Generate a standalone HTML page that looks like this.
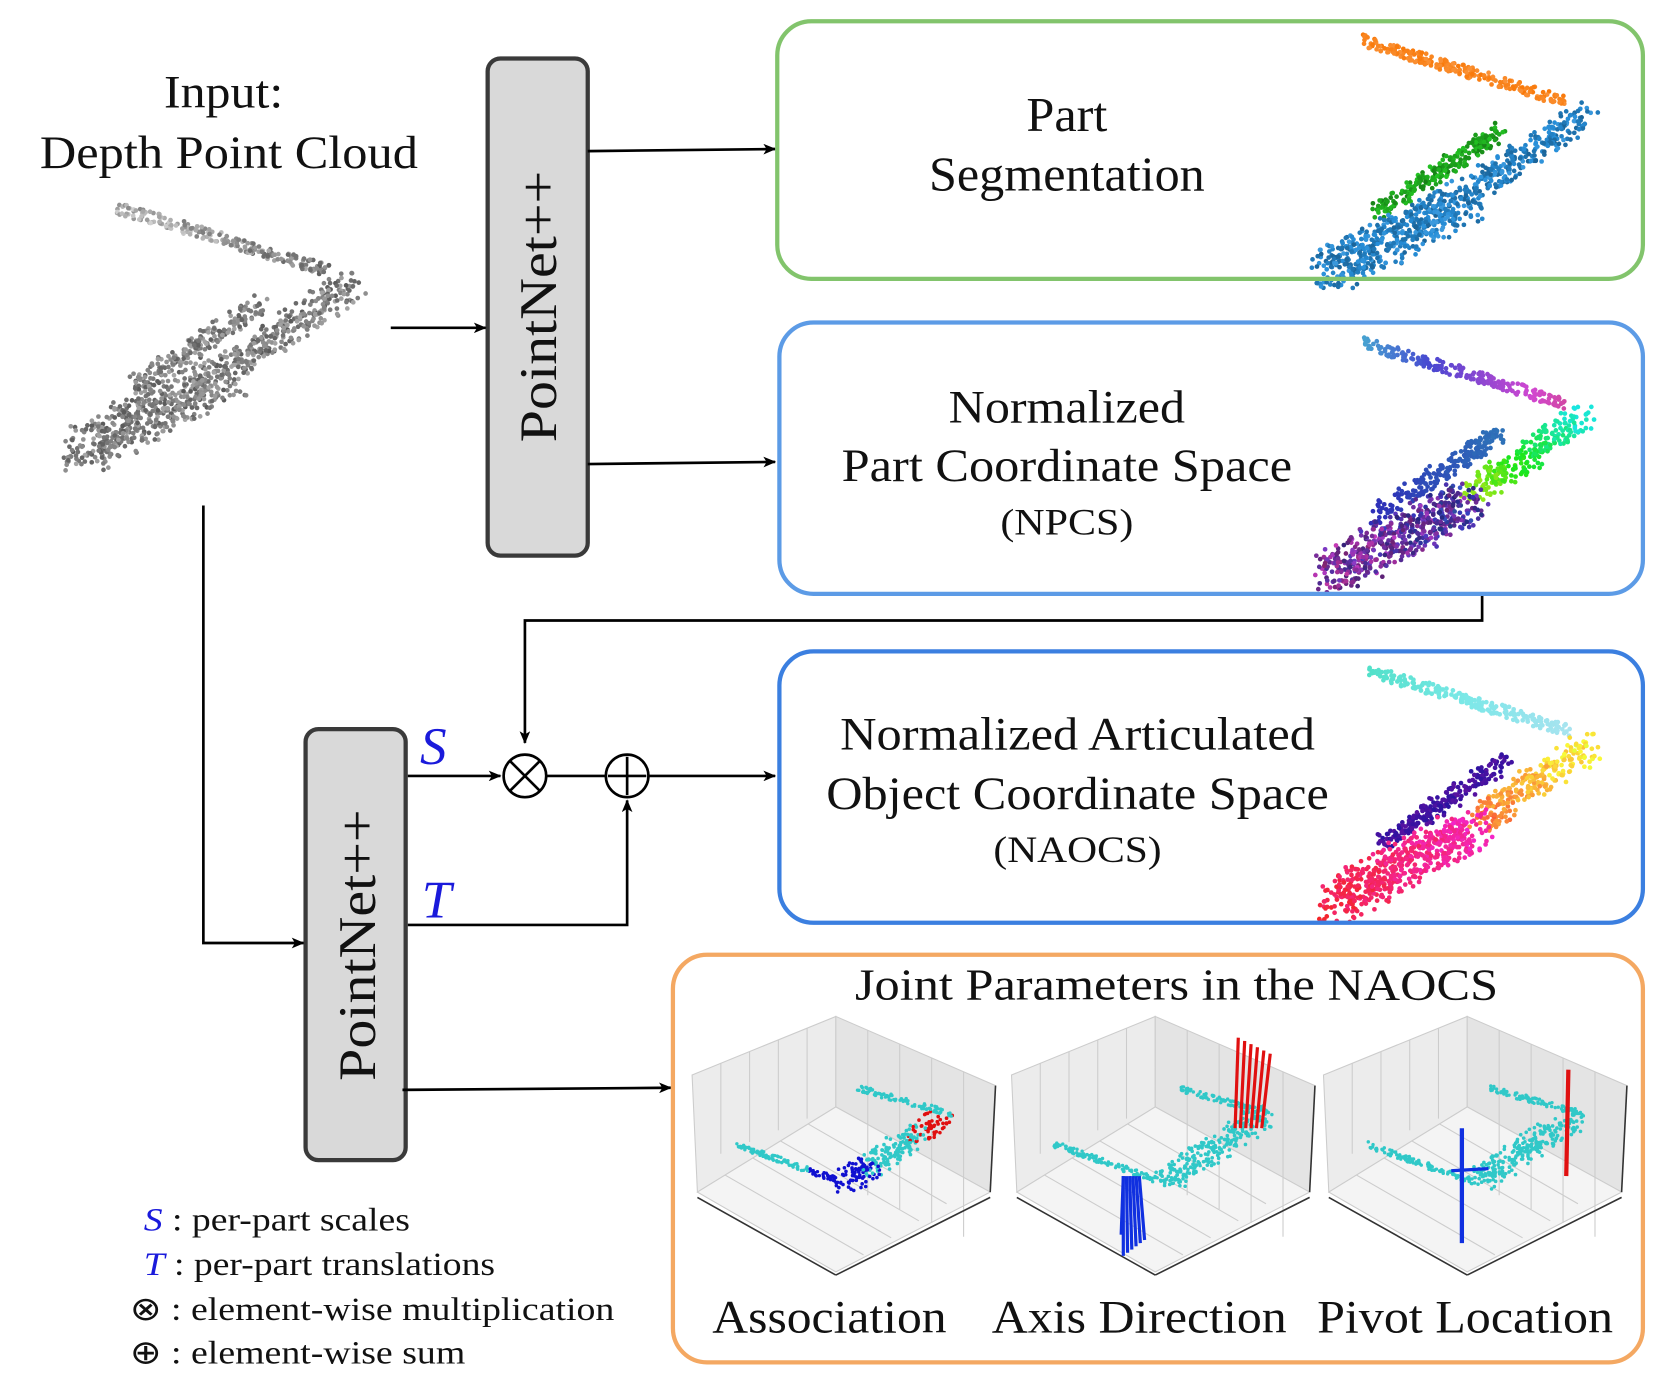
<!DOCTYPE html>
<html><head><meta charset="utf-8"><style>
html,body{margin:0;padding:0;background:#fff}
svg{display:block}
text{font-family:"Liberation Serif",serif;fill:#111}
</style></head><body>
<svg id="s" width="1661" height="1373" viewBox="0 0 1560 1290" preserveAspectRatio="none" xmlns="http://www.w3.org/2000/svg">
<defs>
<marker id="a" markerWidth="12" markerHeight="10" refX="11" refY="5" orient="auto" markerUnits="userSpaceOnUse"><path d="M0,0 L12,5 L0,10 L3,5 z" fill="#000"/></marker>
</defs>
<g id="clouds"></g>
<text x="210" y="101" font-size="44" text-anchor="middle" textLength="112" lengthAdjust="spacingAndGlyphs">Input:</text>
<text x="215" y="158" font-size="44" text-anchor="middle" textLength="355" lengthAdjust="spacingAndGlyphs">Depth Point Cloud</text>

<rect x="458" y="55" width="94" height="467" rx="12" fill="#d9d9d9" stroke="#3a3a3a" stroke-width="4"/>
<text transform="translate(522,288) rotate(-90)" font-size="50" text-anchor="middle" textLength="255" lengthAdjust="spacingAndGlyphs">PointNet++</text>
<rect x="287" y="685" width="94" height="405" rx="12" fill="#d9d9d9" stroke="#3a3a3a" stroke-width="4"/>
<text transform="translate(352,888) rotate(-90)" font-size="50" text-anchor="middle" textLength="255" lengthAdjust="spacingAndGlyphs">PointNet++</text>

<g stroke="#000" stroke-width="2.5" fill="none">
<path d="M367,308 H456" marker-end="url(#a)"/>
<path d="M552,142 L728,140" marker-end="url(#a)"/>
<path d="M552,436 L728,434" marker-end="url(#a)"/>
<path d="M1392,558 V583 H493 V698" marker-end="url(#a)"/>
<path d="M383,729 H470" marker-end="url(#a)"/>
<path d="M513,729 H569"/>
<path d="M609,729 H728" marker-end="url(#a)"/>
<path d="M383,869 H589 V752" marker-end="url(#a)"/>
<path d="M191,475 V886 H285" marker-end="url(#a)"/>
<path d="M378,1024 L630,1022" marker-end="url(#a)"/>
<circle cx="493" cy="729" r="20"/><path d="M479,715 L507,743 M507,715 L479,743"/>
<circle cx="589" cy="729" r="20"/><path d="M589,711 V747 M571,729 H607"/>
</g>
<text x="407" y="718" font-size="50" font-style="italic" style="fill:#1a1adb" text-anchor="middle">S</text>
<text x="410" y="862" font-size="50" font-style="italic" style="fill:#1a1adb" text-anchor="middle">T</text>

<rect x="730" y="20" width="813" height="242" rx="32" fill="none" stroke="#82c46c" stroke-width="4"/>
<text x="1002" y="123" font-size="46" text-anchor="middle" textLength="76" lengthAdjust="spacingAndGlyphs">Part</text>
<text x="1002" y="179" font-size="46" text-anchor="middle" textLength="259" lengthAdjust="spacingAndGlyphs">Segmentation</text>

<rect x="732" y="303" width="811" height="255" rx="32" fill="none" stroke="#5c9be6" stroke-width="4"/>
<text x="1002" y="397" font-size="44" text-anchor="middle" textLength="222" lengthAdjust="spacingAndGlyphs">Normalized</text>
<text x="1002" y="452" font-size="44" text-anchor="middle" textLength="423" lengthAdjust="spacingAndGlyphs">Part Coordinate Space</text>
<text x="1002" y="502" font-size="35" text-anchor="middle" textLength="125" lengthAdjust="spacingAndGlyphs">(NPCS)</text>

<rect x="732" y="612" width="811" height="255" rx="32" fill="none" stroke="#3b7fe0" stroke-width="4"/>
<text x="1012" y="704" font-size="44" text-anchor="middle" textLength="446" lengthAdjust="spacingAndGlyphs">Normalized Articulated</text>
<text x="1012" y="760" font-size="44" text-anchor="middle" textLength="472" lengthAdjust="spacingAndGlyphs">Object Coordinate Space</text>
<text x="1012" y="810" font-size="35" text-anchor="middle" textLength="158" lengthAdjust="spacingAndGlyphs">(NAOCS)</text>

<rect x="632" y="897" width="911" height="383" rx="32" fill="none" stroke="#f4a862" stroke-width="4"/>
<text x="1105" y="939" font-size="42" text-anchor="middle" textLength="604" lengthAdjust="spacingAndGlyphs">Joint Parameters in the NAOCS</text>
<g id="plots"></g>
<text x="779" y="1252" font-size="44" text-anchor="middle" textLength="220" lengthAdjust="spacingAndGlyphs">Association</text>
<text x="1070" y="1252" font-size="44" text-anchor="middle" textLength="277" lengthAdjust="spacingAndGlyphs">Axis Direction</text>
<text x="1376" y="1252" font-size="44" text-anchor="middle" textLength="278" lengthAdjust="spacingAndGlyphs">Pivot Location</text>

<text x="135" y="1156" font-size="31" textLength="250" lengthAdjust="spacingAndGlyphs"><tspan font-style="italic" style="fill:#1a1adb">S</tspan> : per-part scales</text>
<text x="135" y="1198" font-size="31" textLength="330" lengthAdjust="spacingAndGlyphs"><tspan font-style="italic" style="fill:#1a1adb">T</tspan> : per-part translations</text>
<text x="122" y="1240" font-size="31" textLength="455" lengthAdjust="spacingAndGlyphs">⊗ : element-wise multiplication</text>
<text x="122" y="1281" font-size="31" textLength="315" lengthAdjust="spacingAndGlyphs">⊕ : element-wise sum</text>
</svg>
<script>
var NS="http://www.w3.org/2000/svg";
var seed=7;function r(){seed=(seed*16807)%2147483647;return seed/2147483647;}
var g=document.getElementById("clouds");
function dot(p,x,y,c,rad){var e=document.createElementNS(NS,"circle");e.setAttribute("cx",x);e.setAttribute("cy",y);e.setAttribute("r",rad||2.2);e.setAttribute("fill",c);p.appendChild(e);}
function hsl(h,s,l){return "hsl("+h+","+s+"%,"+l+"%)";}
function cloud(ox,oy,sc,cf){
 for(var i=0;i<220;i++){var t=r();var x=110+t*200,y=195+t*60+(r()-.5)*12;dot(g,ox+(x-110)*sc,oy+(y-195)*sc,cf(0,t),2.2);}
 for(var i=0;i<250;i++){var t=r();var x=330-t*110+(r()-.5)*30,y=268+t*75+(r()-.5)*25;dot(g,ox+(x-110)*sc,oy+(y-195)*sc,cf(1,t),2.2);}
 for(var i=0;i<220;i++){var t=r();var x=245-t*120+(r()-.5)*16,y=285+t*80+(r()-.5)*18;dot(g,ox+(x-110)*sc,oy+(y-195)*sc,cf(2,t),2.2);}
 for(var i=0;i<550;i++){var t=r();var x=215-t*140+(r()-.5)*40,y=350+t*75+(r()-.5)*40;dot(g,ox+(x-110)*sc,oy+(y-195)*sc,cf(3,t),2.2);}
}
cloud(110,195,1,function(p,t){var l=35+r()*30+(p==0?20*(1-t):0);return hsl(0,0,l);});
cloud(1280,38,0.95,function(p,t){if(p==0)return hsl(28,95,50+r()*10);if(p==2)return hsl(120,70,30+r()*15);return hsl(205,70,35+r()*20);});
cloud(1280,322,0.95,function(p,t){if(p==0)return hsl(200+t*120,60,55);if(p==1)return hsl(180-t*100,80,50);if(p==2)return hsl(210+t*30,60,45);return hsl(280+t*40-60*r(),55,30+r()*20);});
cloud(1285,630,0.95,function(p,t){if(p==0)return hsl(170+t*20,70,60+t*20);if(p==1)return hsl(50-t*40+r()*20,95,60);if(p==2)return hsl(250+r()*20,80,35);return hsl(310+t*30+r()*20,90,55);});
var pg=document.getElementById("plots");
function line(x1,y1,x2,y2,c,w){var e=document.createElementNS(NS,"line");e.setAttribute("x1",x1);e.setAttribute("y1",y1);e.setAttribute("x2",x2);e.setAttribute("y2",y2);e.setAttribute("stroke",c);e.setAttribute("stroke-width",w);pg.appendChild(e);}
function poly(pts,f){var e=document.createElementNS(NS,"polygon");e.setAttribute("points",pts);e.setAttribute("fill",f);e.setAttribute("stroke","#ccc");e.setAttribute("stroke-width","1");pg.appendChild(e);}
function plot(ox,mode){
 var c={x:ox+140,y:1040},top={x:ox+140,y:955},L={x:ox+5,y:1010},R={x:ox+290,y:1020},BL={x:ox+10,y:1130},BR={x:ox+285,y:1140},B={x:ox+140,y:1195};
 poly([L.x+","+L.y,top.x+","+top.y,c.x+","+c.y,BL.x+","+(BL.y-10)].join(" "),"#ececec");
 poly([top.x+","+top.y,R.x+","+R.y,BR.x+","+(BR.y-20)+"",c.x+","+c.y].join(" "),"#e4e4e4");
 poly([BL.x+","+(BL.y-10),c.x+","+c.y,BR.x+","+(BR.y-20),B.x+","+B.y].join(" "),"#f4f4f4");
 for(var k=1;k<5;k++){var t=k/5;
  line(L.x+(top.x-L.x)*t,L.y+(top.y-L.y)*t,L.x+(top.x-L.x)*t+(c.x-top.x),L.y+(top.y-L.y)*t+(c.y-top.y),"#ccc",1);
  line(top.x+(R.x-top.x)*t,top.y+(R.y-top.y)*t,top.x+(R.x-top.x)*t,top.y+(R.y-top.y)*t+(c.y-top.y)+70,"#ccc",1);
  line(BL.x+(c.x-BL.x)*t,BL.y-10+(c.y-BL.y+10)*t,BL.x+(c.x-BL.x)*t+(B.x-BL.x),BL.y-10+(c.y-BL.y+10)*t+(B.y-BL.y+10),"#ccc",1);
 }
 line(BL.x,BL.y-5,B.x,B.y+3,"#333",1.5);line(B.x,B.y+3,BR.x,BR.y-15,"#333",1.5);line(R.x,R.y,BR.x,BR.y-20,"#333",1.5);
 for(var i=0;i<120;i++){var t=r();dot(pg,ox+45+t*100,1075+t*35+(r()-.5)*6,(mode==0&&t>0.7)?"#1010d0":"#30c8c8",1.6);}
 for(var i=0;i<260;i++){var t=r();dot(pg,ox+150+t*90+(r()-.5)*22,1110-t*60+(r()-.5)*22,(mode==0&&t<0.25)?"#1010d0":(mode==0&&t>0.75)?"#e01010":"#30c8c8",1.7);}
 for(var i=0;i<90;i++){var t=r();dot(pg,ox+160+t*90,1022+t*25+(r()-.5)*6,"#30c8c8",1.6);}
 if(mode==1){for(var k=0;k<6;k++){line(ox+215+k*5,1060,ox+218+k*6,975+k*3,"#e01010",3);line(ox+110+k*3,1105,ox+110+k*4,1180-k*3,"#1030e0",3);}line(ox+110,1105,ox+108,1160,"#1030e0",3);}
 if(mode==2){line(ox+235,1005,ox+233,1105,"#e01010",4);line(ox+135,1060,ox+135,1168,"#1030e0",4);line(ox+125,1100,ox+160,1098,"#1030e0",3);}
}
plot(645,0);plot(945,1);plot(1238,2);
</script>
</body></html>
